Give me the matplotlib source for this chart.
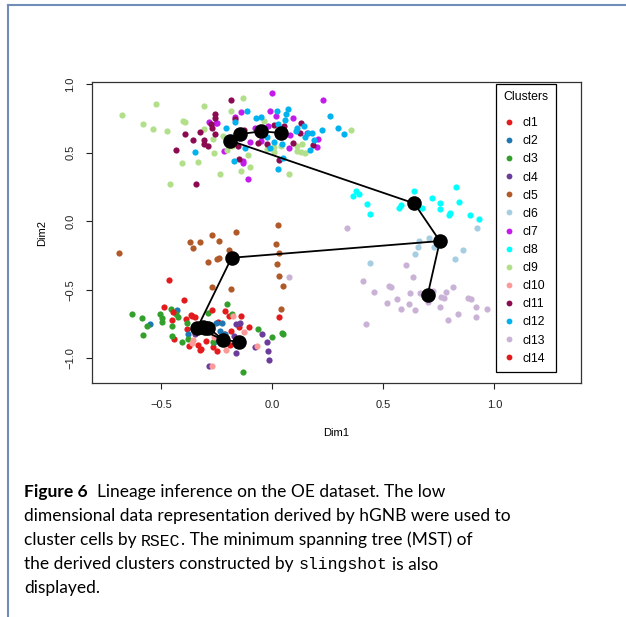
import numpy as np
import matplotlib
matplotlib.use('Agg')
import matplotlib.pyplot as plt
from matplotlib.lines import Line2D

# ---- cluster points (Dim1, Dim2) ----
cl1_x = [-0.449, -0.441, -0.387, -0.384, -0.347, -0.372, -0.324, -0.195, -0.105, -0.186,
         -0.189, -0.267, -0.249, -0.297, -0.215, -0.335, -0.147, -0.321, -0.362, -0.242, -0.485]
cl1_y = [-0.720, -0.859, -0.715, -0.786, -0.696, -0.910, -0.939, -0.691, -0.774, -0.798,
         -0.903, -0.920, -0.944, -0.871, -0.825, -0.903, -0.774, -0.934, -0.691, -0.733, -0.628]
cl2_x = [-0.429, -0.550, -0.377, -0.252, -0.224, -0.212, -0.261, -0.235]
cl2_y = [-0.647, -0.750, -0.825, -0.740, -0.745, -0.823, -0.879, -0.800]
cl3_x = [-0.632, -0.584, -0.564, -0.579, -0.502, -0.497, -0.494, -0.456, -0.432, -0.422,
         -0.452, -0.452, -0.404, -0.382, -0.378, -0.204, -0.287, -0.182, -0.062, -0.001,
         0.044, 0.051, -0.132, -0.264]
cl3_y = [-0.679, -0.704, -0.764, -0.830, -0.677, -0.708, -0.733, -0.642, -0.677, -0.696,
         -0.762, -0.837, -0.879, -0.740, -0.861, -0.606, -0.667, -0.677, -0.788, -0.847,
         -0.813, -0.825, -1.098, -0.879]
cl4_x = [-0.164, -0.144, -0.170, -0.044, -0.021, -0.077, -0.019, -0.012, -0.164, -0.284, -0.347]
cl4_y = [-0.752, -0.740, -0.837, -0.823, -0.883, -0.915, -0.947, -1.012, -0.964, -1.056, -0.823]
cl5_x = [-0.689, -0.368, -0.324, -0.354, -0.272, -0.239, -0.164, -0.194, -0.239, -0.246,
         -0.287, 0.026, 0.017, 0.032, 0.024, 0.032, 0.048, -0.269, -0.186, 0.039]
cl5_y = [-0.229, -0.149, -0.149, -0.197, -0.100, -0.144, -0.076, -0.209, -0.270, -0.277,
         -0.299, -0.027, -0.168, -0.234, -0.309, -0.397, -0.472, -0.477, -0.492, -0.642]
cl6_x = [0.922, 0.707, 0.659, 0.655, 0.641, 0.727, 0.857, 0.824, 0.441]
cl6_y = [-0.047, -0.119, -0.144, -0.190, -0.241, -0.190, -0.209, -0.278, -0.302]
cl7_x = [-0.002, 0.231, -0.140, -0.167, -0.009, 0.018, 0.093, -0.017, -0.077, 0.081,
         0.209, 0.201, 0.078, 0.156, -0.051, -0.129, -0.110, -0.132, -0.252, -0.284,
         -0.249, -0.215, -0.100, -0.040]
cl7_y = [0.939, 0.885, 0.800, 0.764, 0.807, 0.771, 0.752, 0.696, 0.679, 0.630,
         0.601, 0.545, 0.537, 0.647, 0.586, 0.423, 0.307, 0.440, 0.717, 0.722,
         0.715, 0.513, 0.580, 0.630]
cl8_x = [0.378, 0.392, 0.365, 0.427, 0.441, 0.640, 0.581, 0.572, 0.674, 0.719,
         0.757, 0.754, 0.799, 0.794, 0.829, 0.842, 0.892, 0.929]
cl8_y = [0.221, 0.199, 0.185, 0.126, 0.053, 0.223, 0.119, 0.095, 0.099, 0.168,
         0.136, 0.090, 0.063, 0.046, 0.248, 0.139, 0.046, 0.017]
cl9_x = [-0.677, -0.523, -0.580, -0.537, -0.474, -0.399, -0.392, -0.305, -0.306, -0.405,
         -0.461, -0.332, -0.233, -0.141, -0.098, -0.263, -0.267, -0.131, -0.185, -0.201,
         -0.107, -0.036, -0.024, 0.011, 0.041, 0.113, 0.137, 0.111, 0.149, 0.130,
         0.078, 0.356, 0.011, -0.222, -0.182, -0.179]
cl9_y = [0.774, 0.856, 0.708, 0.674, 0.659, 0.732, 0.725, 0.839, 0.676, 0.425,
         0.270, 0.433, 0.343, 0.369, 0.394, 0.498, 0.601, 0.902, 0.807, 0.523,
         0.484, 0.732, 0.526, 0.545, 0.550, 0.550, 0.562, 0.513, 0.501, 0.508,
         0.343, 0.666, 0.508, 0.625, 0.557, 0.550]
cl10_x = [-0.177, -0.125, -0.209, -0.069, -0.272, -0.354, -0.362, -0.261]
cl10_y = [-0.689, -0.806, -0.939, -0.910, -1.056, -0.866, -0.891, -0.842]
cl11_x = [-0.186, -0.255, -0.255, -0.276, -0.272, -0.324, -0.392, -0.354, -0.306, -0.305,
          -0.287, -0.434, -0.258, -0.344, -0.167, -0.125, -0.152, -0.024, 0.055, 0.131,
          0.096, 0.186, 0.033, -0.150, -0.062, 0.126, 0.011]
cl11_y = [0.885, 0.781, 0.757, 0.708, 0.684, 0.654, 0.637, 0.593, 0.593, 0.562,
          0.552, 0.520, 0.635, 0.272, 0.745, 0.666, 0.550, 0.562, 0.698, 0.715,
          0.574, 0.557, 0.447, 0.455, 0.574, 0.642, 0.703]
cl12_x = [-0.114, -0.074, -0.050, 0.024, 0.071, 0.063, 0.029, 0.059, 0.111, 0.110,
          0.146, 0.164, 0.182, 0.149, 0.191, 0.227, 0.263, 0.296, 0.324, 0.171,
          -0.021, 0.011, 0.047, 0.051, 0.026, -0.009, -0.171, -0.122, -0.207, -0.167, -0.347]
cl12_y = [0.807, 0.752, 0.759, 0.805, 0.818, 0.781, 0.713, 0.737, 0.684, 0.660,
          0.698, 0.647, 0.647, 0.613, 0.593, 0.666, 0.771, 0.679, 0.637, 0.520,
          0.613, 0.581, 0.562, 0.464, 0.385, 0.533, 0.440, 0.533, 0.679, 0.722, 0.508]
cl13_x = [0.336, 0.602, 0.634, 0.411, 0.457, 0.525, 0.535, 0.562, 0.517, 0.614,
          0.580, 0.644, 0.622, 0.664, 0.700, 0.724, 0.761, 0.772, 0.782, 0.812,
          0.754, 0.790, 0.835, 0.881, 0.896, 0.919, 0.916, 0.967, 0.423, 0.078]
cl13_y = [-0.047, -0.319, -0.409, -0.436, -0.519, -0.470, -0.482, -0.569, -0.594, -0.606,
          -0.643, -0.648, -0.526, -0.521, -0.587, -0.509, -0.550, -0.562, -0.519, -0.477,
          -0.628, -0.720, -0.679, -0.562, -0.569, -0.628, -0.696, -0.640, -0.750, -0.407]
cl14_x = [-0.465, -0.396, -0.444, -0.366, -0.272, -0.213, 0.033, -0.141]
cl14_y = [-0.431, -0.574, -0.660, -0.684, -0.647, -0.655, -0.701, -0.689]

clusters = ['cl1', 'cl2', 'cl3', 'cl4', 'cl5', 'cl6', 'cl7', 'cl8', 'cl9', 'cl10',
            'cl11', 'cl12', 'cl13', 'cl14']
colors = ['#E41A1C', '#1F78B4', '#33A02C', '#6A3D9A', '#B15928', '#A6CEE3', '#C21BEB',
          '#00FFFF', '#B2DF8A', '#FB9A99', '#8B0A50', '#00B2EE', '#CAB2D6', '#E31A1C']
xs = [cl1_x, cl2_x, cl3_x, cl4_x, cl5_x, cl6_x, cl7_x, cl8_x, cl9_x, cl10_x, cl11_x, cl12_x, cl13_x, cl14_x]
ys = [cl1_y, cl2_y, cl3_y, cl4_y, cl5_y, cl6_y, cl7_y, cl8_y, cl9_y, cl10_y, cl11_y, cl12_y, cl13_y, cl14_y]

# MST centres and edges
centre_x = [-0.309, -0.287, -0.336, -0.147, -0.182, 0.755, -0.048, 0.640, -0.144, -0.219,
            -0.188, 0.039, 0.700, -0.300]
centre_y = [-0.774, -0.777, -0.777, -0.879, -0.266, -0.144, 0.657, 0.131, 0.637, -0.866,
            0.589, 0.645, -0.538, -0.782]
edges = [(10, 8), (8, 6), (6, 11), (10, 7), (7, 5), (5, 12), (5, 4), (4, 2),
         (2, 0), (0, 1), (2, 9), (1, 9), (9, 3)]

W, H = 626, 617
fig = plt.figure(figsize=(W / 100, H / 100), dpi=100)
ax = fig.add_axes([92 / W, 1 - 383 / H, 489 / W, 301 / H])

for x, y, c in zip(xs, ys, colors):
    ax.scatter(x, y, s=20, color=c, linewidths=0, zorder=2)

for a, b in edges:
    ax.plot([centre_x[a], centre_x[b]], [centre_y[a], centre_y[b]], color='black', lw=1.3, zorder=3)
ax.scatter(centre_x, centre_y, s=110, color='black', linewidths=0, zorder=4)

ax.set_xlim(-0.81, 1.39)
ax.set_ylim(-1.18, 1.017)
ax.set_xticks([-0.5, 0.0, 0.5, 1.0])
ax.set_xticklabels(['\u22120.5', '0.0', '0.5', '1.0'])
ax.set_yticks([-1.0, -0.5, 0.0, 0.5, 1.0])
ax.set_yticklabels(['\u22121.0', '\u22120.5', '0.0', '0.5', '1.0'], rotation=90, va='center')
ax.tick_params(direction='out', length=4, width=0.8, pad=8, labelsize=8, colors='#222222')
for lab in ax.get_xticklabels() + ax.get_yticklabels():
    lab.set_family('Liberation Sans')
for sp in ax.spines.values():
    sp.set_linewidth(0.9)
    sp.set_color('#333333')

ax.text(0.5, -0.166, 'Dim1', transform=ax.transAxes, ha='center', va='center',
        fontsize=8, family='Liberation Sans')
ax.text(-0.102, 0.5, 'Dim2', transform=ax.transAxes, ha='center', va='center',
        fontsize=8, family='Liberation Sans', rotation=90)

handles = [Line2D([], [], marker='o', ls='', color=c, markersize=4.2, markeredgewidth=0)
           for c in colors]
leg = ax.legend(handles, clusters, title='Clusters', loc='upper right',
                bbox_to_anchor=(556 / W, 1 - 84 / H), bbox_transform=fig.transFigure,
                frameon=True, fancybox=False, framealpha=1, edgecolor='black',
                prop={'family': 'Liberation Sans', 'size': 8.8}, alignment='left',
                handlelength=0.93, handletextpad=0.6, labelspacing=0.5,
                borderpad=0.6, borderaxespad=0)
leg.get_title().set_fontsize(8.8)
leg.get_title().set_family('Liberation Sans')
leg.get_frame().set_linewidth(0.9)
leg._legend_box.sep = 10.0  # wider gap under the title

# page border
border = '#6F8DB6'
fig.add_artist(Line2D([8 / W, 1], [1 - 5 / H, 1 - 5 / H], transform=fig.transFigure, color=border, lw=1.5))
fig.add_artist(Line2D([8 / W, 8 / W], [0, 1 - 5 / H], transform=fig.transFigure, color=border, lw=1.5))

# caption with mixed fonts
renderer = fig.canvas.get_renderer()
sans = 'Lato'
probe = fig.text(0, 0, 'dimensional data representation derived by hGNB were used to',
                 family=sans, fontsize=10)
w10 = probe.get_window_extent(renderer).width
probe.remove()
fs = 10 * 486 / w10


def text_width(s, **kw):
    t = fig.text(0, 0, s, **kw)
    w = t.get_window_extent(renderer).width
    t.remove()
    return w


gap = text_width('a a', family=sans, fontsize=fs) - text_width('aa', family=sans, fontsize=fs)


def put_line(ybase, parts):
    x = 24
    for s, kw in parts:
        if s == ' ':
            x += gap
            continue
        t = fig.text(x / W, 1 - ybase / H, s, va='baseline', ha='left', **kw)
        x = t.get_window_extent(renderer).x1


n = {'family': sans, 'fontsize': fs}
b = {'family': sans, 'fontsize': fs, 'weight': 'bold'}
m = {'family': 'Liberation Mono', 'fontsize': fs * 0.95}
put_line(497.5, [('Figure 6', b), (' ', None), (' ', None),
                 ('Lineage inference on the OE dataset. The low', n)])
put_line(521.5, [('dimensional data representation derived by hGNB were used to', n)])
put_line(545.5, [('cluster cells by', n), (' ', None), ('RSEC', m),
                 ('. The minimum spanning tree (MST) of', n)])
put_line(569.5, [('the derived clusters constructed by', n), (' ', None), ('slingshot', m),
                 (' ', None), ('is also', n)])
put_line(593.5, [('displayed.', n)])

fig.savefig('out.png', dpi=100)
